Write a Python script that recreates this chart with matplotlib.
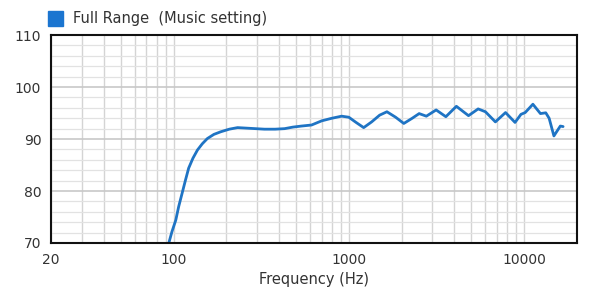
import matplotlib
matplotlib.use("Agg")
import matplotlib.pyplot as plt
from matplotlib.ticker import FixedLocator, NullFormatter, MultipleLocator

freq_hz = [94, 98, 103, 107, 112, 117, 122, 129, 137, 146, 156, 170, 186, 208, 232, 277, 330, 380, 430, 480,
           537, 613, 700, 800, 910, 1000, 1100, 1216, 1350, 1500, 1650, 1850, 2060, 2300, 2520,
           2770, 3150, 3580, 4110, 4820, 5470, 6020, 6860, 7840, 8880, 9600, 10150, 11230,
           12400, 13300, 13900, 14800, 16100, 16700]
spl_db = [70.0, 72.2, 74.4, 77.0, 79.6, 82.1, 84.4, 86.3, 87.9, 89.1, 90.1, 90.9, 91.4, 91.9, 92.2, 92.05, 91.9,
          91.9, 92.0, 92.3, 92.5, 92.7, 93.5, 94.0, 94.4, 94.2, 93.2, 92.2, 93.3, 94.6, 95.25,
          94.2, 93.0, 94.0, 94.9, 94.4, 95.6, 94.3, 96.3, 94.5, 95.8, 95.25, 93.3, 95.1, 93.2,
          94.75, 95.1, 96.7, 94.9, 95.05, 94.0, 90.6, 92.5, 92.4]

x_ticks = [20, 100, 1000, 10000]
x_tick_labels = ["20", "100", "1000", "10000"]
y_ticks = [70, 80, 90, 100, 110]
legend_label = "Full Range  (Music setting)"
x_label = "Frequency (Hz)"

line_color = "#1f74c4"
text_color = "#333333"

fig = plt.figure(figsize=(6.03, 3.0), dpi=100)
ax = fig.add_axes([0.0846, 0.19, 0.872, 0.693])
ax.set_xscale("log")
ax.set_xlim(20, 20000)
ax.set_ylim(70, 110)

minor_x = [m * 10 ** e for e in range(1, 5) for m in range(2, 10) if 20 <= m * 10 ** e <= 20000]
ax.xaxis.set_major_locator(FixedLocator(x_ticks))
ax.xaxis.set_minor_locator(FixedLocator(minor_x))
ax.xaxis.set_minor_formatter(NullFormatter())
ax.set_xticklabels(x_tick_labels)
ax.set_yticks(y_ticks)
ax.yaxis.set_minor_locator(MultipleLocator(2))

ax.grid(True, which="major", axis="y", color="#c8c8c8", linewidth=1.2)
ax.grid(True, which="minor", axis="y", color="#e2e2e2", linewidth=0.9)
ax.grid(True, which="both", axis="x", color="#d4d4d4", linewidth=1.0)
ax.set_axisbelow(True)

ax.plot(freq_hz, spl_db, color=line_color, linewidth=2.0, solid_capstyle="round", solid_joinstyle="round",
        clip_on=True)

for s in ax.spines.values():
    s.set_color("#111111")
    s.set_linewidth(1.5)

ax.tick_params(which="both", length=0, labelsize=10, colors=text_color, pad=7)
ax.set_xlabel(x_label, fontsize=10.5, color=text_color, labelpad=4)

fig.patches.append(plt.Rectangle((48 / 603, 1 - 26 / 300), 15 / 603, 15 / 300,
                                 transform=fig.transFigure, color="#1b75d0", figure=fig))
fig.text(73 / 603, 1 - 19 / 300, legend_label, fontsize=10.5, color=text_color, va="center", ha="left")

fig.savefig("out.png", dpi=100, facecolor="white")
